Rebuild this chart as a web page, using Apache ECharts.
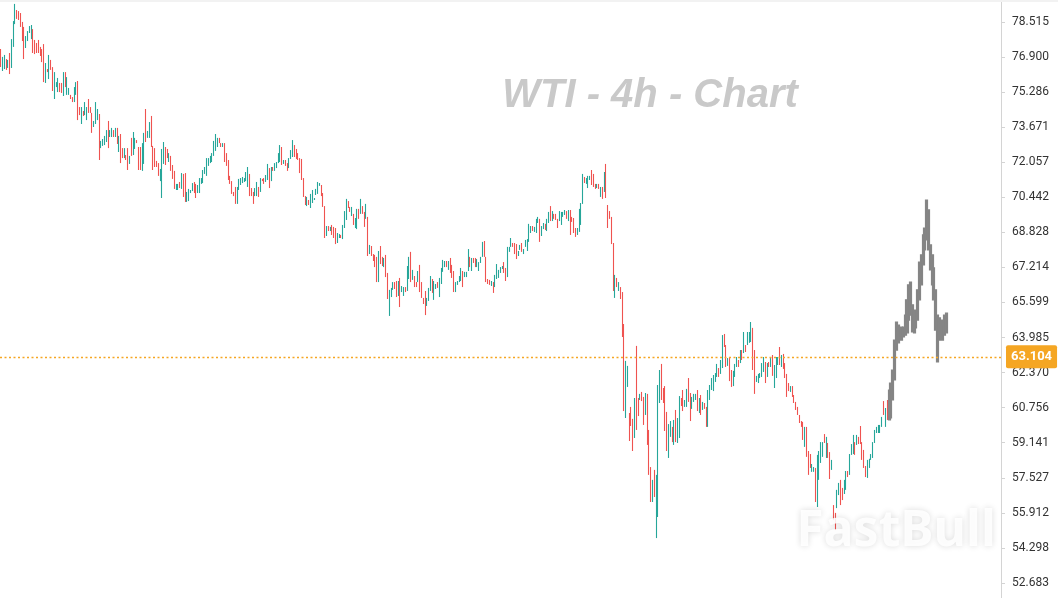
<!DOCTYPE html>
<html>
<head>
<meta charset="utf-8">
<script src="https://cdn.jsdelivr.net/npm/echarts@6/dist/echarts.min.js"></script>
<style>
html,body{margin:0;padding:0;background:#fff;}
#chart{width:1058px;height:598px;}
</style>
</head>
<body>
<div id="chart"></div>
<script>
// ---- DATA ----
const title = 'WTI - 4h - Chart';
const brand = 'FastBull';
const lastPrice = 63.104;
const tickLabels = ['52.683','54.298','55.912','57.527','59.141','60.756','62.370','63.985','65.599','67.214','68.828','70.442','72.057','73.671','75.286','76.900','78.515'];

// completed 4h candles (open / close)
const opens = [
77.27,76.26,76.35,76.81,76.40,77.09,76.40,77.37,78.42,79.07,
79.02,78.93,78.52,78.29,77.32,77.64,78.01,77.73,78.19,77.69,
77.55,77.69,77.37,77.27,77.50,75.71,76.35,75.89,76.77,76.44,
74.97,75.52,75.29,75.71,75.71,75.11,76.21,75.16,75.16,75.16,
75.06,74.83,75.16,75.80,74.60,73.82,74.42,74.23,74.00,74.97,
74.60,74.33,73.68,73.82,74.00,74.28,72.71,72.81,72.85,72.99,
73.96,73.22,73.22,73.54,73.22,73.64,72.53,73.36,72.71,72.25,
72.39,72.71,71.98,73.18,72.39,72.67,73.08,72.76,72.76,71.66,
71.98,74.51,73.18,73.18,74.19,72.81,72.71,72.12,72.02,
71.19,70.41,71.98,72.76,72.67,72.07,72.35,71.93,71.66,70.78,
70.78,71.15,70.83,71.52,71.56,70.23,70.27,70.64,70.73,71.15,
71.06,70.64,70.64,71.06,71.10,71.52,71.43,71.89,72.02,72.07,
72.35,72.58,72.76,73.18,72.94,72.76,72.94,72.48,72.16,71.43,
71.19,70.69,70.92,70.14,70.78,71.01,71.10,71.15,71.19,70.92,
71.52,70.87,70.69,70.50,70.50,70.92,70.69,71.29,71.33,71.15,
71.24,71.79,71.19,71.84,71.66,71.79,72.02,72.07,72.76,71.98,
72.16,72.02,71.79,72.21,72.30,72.85,72.67,72.48,72.25,72.21,
71.33,70.50,70.04,70.32,69.95,70.18,70.32,70.55,70.60,
70.97,71.01,70.64,70.04,68.66,69.12,68.89,69.17,69.08,69.03,
68.34,68.57,68.71,68.52,69.03,69.40,70.27,70.00,69.58,69.68,
69.03,68.98,69.91,69.68,70.04,69.77,69.45,69.54,67.83,68.20,
67.83,67.79,67.70,66.54,68.20,67.70,67.23,67.79,66.96,64.98,
65.85,66.18,66.54,66.59,65.90,66.73,66.08,65.90,66.31,66.13,
66.68,67.93,66.64,66.82,66.54,66.54,67.33,66.54,65.81,66.13,
65.44,65.67,66.13,66.68,65.72,66.22,66.54,65.85,66.45,67.01,
67.23,67.51,67.10,67.65,67.33,67.05,66.08,66.41,66.54,66.59,
67.05,66.77,66.77,67.05,67.70,67.05,67.65,67.65,67.23,
67.05,67.42,67.70,68.43,67.70,66.68,66.64,66.36,66.54,66.31,
66.68,66.73,66.96,67.14,67.46,67.19,66.77,67.93,68.16,68.34,
68.34,68.29,67.74,68.02,68.34,67.83,68.16,67.97,68.39,68.80,
69.12,68.85,68.80,69.26,69.45,68.66,68.98,69.22,68.89,69.26,
70.04,69.35,69.68,69.68,69.45,69.35,69.17,69.54,69.63,69.81,
69.35,69.86,69.54,69.49,69.03,68.71,68.85,69.17,70.14,71.38,
71.06,
70.87,71.24,71.70,71.52,71.06,70.87,71.06,70.46,70.92,70.69,
71.98,70.09,69.81,69.54,68.34,65.81,66.73,66.13,66.31,66.08,
64.61,60.28,61.71,60.51,60.79,60.24,59.36,63.60,61.20,61.11,
61.48,61.25,60.42,61.39,59.73,58.02,56.41,57.89,54.75,55.72,
60.97,62.77,61.66,61.75,60.56,58.44,59.41,59.87,59.04,60.65,
59.13,59.36,61.20,61.57,60.79,60.79,62.12,61.43,60.70,61.02,
61.11,61.57,60.51,61.34,60.65,60.97,60.79,59.87,61.11,61.57,
61.52,61.94,62.17,62.58,62.31,62.58,64.15,63.64,62.68,63.09,
62.49,61.75,62.17,
62.63,62.95,62.81,63.41,63.27,63.64,63.64,63.74,63.78,64.43,
63.41,61.94,61.89,62.12,62.17,62.40,62.86,62.17,62.86,62.63,
63.18,61.66,62.12,62.72,63.55,62.63,63.23,62.81,62.31,61.89,
61.48,61.75,61.34,61.02,60.79,60.42,60.14,60.10,58.95,59.87,
58.76,58.62,57.80,57.80,57.98,56.18,57.43,58.21,58.49,59.54,
58.44,59.13,58.71,57.89,56.27,55.91,56.13,56.73,57.43,57.06,
56.78,56.97,57.84,57.66,58.58,58.62,59.17,59.04,59.41,59.91,
59.17,58.81,58.07,57.52,57.98,58.35,58.44,59.13,59.59,59.59,
59.59,59.87,61.06,59.87,61.11
];
const closes = [
76.44,76.91,77.00,76.31,76.77,76.12,77.73,78.56,79.35,78.66,
78.61,78.29,77.64,76.81,77.87,78.10,78.33,78.38,77.09,77.04,
77.09,77.09,76.95,76.67,75.75,76.63,76.21,77.00,76.31,75.34,
76.21,75.75,75.94,75.29,75.25,76.21,75.52,75.98,75.48,74.97,
74.83,75.52,75.75,74.00,74.23,74.60,74.19,74.83,74.60,74.33,
74.33,73.41,73.96,74.83,74.51,72.16,73.04,73.13,73.27,73.54,
72.71,73.54,73.64,73.22,73.64,72.90,73.27,72.02,72.25,72.71,
72.16,71.70,72.35,72.35,73.45,73.18,72.94,71.70,71.70,72.94,
73.41,72.99,73.50,73.91,72.76,71.70,71.84,71.84,71.43,
71.75,72.67,72.99,71.93,72.25,72.48,71.66,71.29,70.83,71.06,
71.06,70.87,71.56,70.46,70.23,70.69,70.83,70.78,71.10,70.64,
70.41,71.01,71.33,71.33,71.70,71.84,72.25,72.25,72.35,72.48,
73.04,73.36,73.18,72.94,72.76,72.94,72.07,71.89,71.24,71.06,
70.60,70.50,70.14,70.92,71.29,71.33,71.38,71.33,71.61,71.84,
70.50,70.50,70.14,70.87,71.15,70.46,71.33,71.19,71.06,71.47,
71.98,70.87,71.84,71.66,72.02,72.07,72.48,72.85,71.93,72.16,
71.89,71.66,72.25,72.62,73.08,72.30,72.21,72.16,71.56,71.24,
70.46,70.09,70.46,70.09,70.60,70.78,70.41,70.83,71.15,
71.10,70.50,70.00,68.57,69.12,68.89,69.08,68.71,68.57,68.29,
68.80,68.75,68.57,69.17,69.81,70.37,69.95,69.77,70.00,69.17,
69.49,69.91,69.45,70.37,69.68,69.08,70.14,67.74,68.25,67.74,
67.51,67.23,66.54,67.97,67.37,67.28,67.65,66.77,65.76,66.18,
66.27,66.54,66.22,65.85,66.59,65.39,66.36,66.31,66.08,67.28,
67.70,66.54,67.10,66.31,66.31,67.05,66.08,65.81,65.53,65.02,
65.81,66.27,66.82,66.04,66.59,66.45,66.27,66.73,67.19,67.56,
67.51,67.23,67.51,66.96,66.73,66.08,66.54,66.59,66.82,67.19,
66.31,67.01,67.01,68.06,67.23,67.65,67.42,67.23,67.60,
67.46,67.70,68.39,67.70,66.54,66.45,66.41,66.59,66.04,66.87,
67.37,67.10,67.23,67.28,66.96,66.59,68.16,68.16,68.57,68.16,
67.83,67.60,67.97,68.25,67.93,68.06,68.48,68.52,69.22,69.12,
68.89,69.08,69.45,69.54,68.39,69.12,69.26,68.94,69.45,69.77,
69.35,69.81,69.45,69.40,69.03,69.81,69.77,69.77,69.86,69.45,
69.86,68.71,69.31,68.80,68.62,69.03,69.91,70.18,71.52,71.10,
71.33,
71.43,71.43,71.01,70.92,70.83,71.06,70.83,70.92,70.37,71.61,
70.41,69.03,69.45,68.29,66.13,66.87,66.31,66.54,65.76,64.01,
60.60,62.91,62.68,59.22,59.91,58.76,61.20,59.73,60.37,61.39,
61.06,59.96,61.43,59.04,57.66,56.41,57.43,56.64,57.66,61.80,
62.49,61.11,60.97,59.68,58.76,60.00,60.14,59.17,60.19,59.17,
60.28,61.29,60.83,60.60,61.11,61.62,61.02,60.14,61.25,61.39,
61.39,60.60,61.20,60.42,61.02,60.70,59.87,61.57,61.80,62.12,
62.26,62.35,62.77,62.17,62.95,64.10,63.55,62.63,63.04,61.98,
61.71,62.45,62.77,
63.09,62.63,63.41,62.95,64.24,63.32,64.24,64.24,64.70,62.49,
61.39,62.22,62.31,62.35,62.81,63.09,61.89,62.81,62.63,63.09,
62.22,62.72,63.09,63.09,62.72,63.18,62.54,62.12,61.25,61.52,
61.75,61.25,60.97,60.65,60.42,60.05,59.87,59.27,59.87,58.49,
57.66,57.98,58.16,58.02,56.41,58.58,58.76,59.17,59.17,59.13,
59.41,58.44,57.47,58.35,55.58,55.12,56.97,57.29,56.27,56.50,
57.43,57.84,57.56,58.62,59.08,59.50,58.58,59.50,59.08,59.08,
58.35,57.98,57.56,58.35,58.40,58.62,59.17,59.73,59.87,59.96,
59.96,60.33,60.42,60.74,60.19
];
// most recent candles (drawn grey)
const liveOpens = [60.19,60.28,61.11,62.03,63.41,63.74,64.43,63.87,64.47,64.10,64.20,64.79,66.54,65.49,64.20,64.43,64.79,65.72,66.41,67.33,68.02,68.48,69.86,68.25,67.79,67.19,66.18,65.02,63.87,64.79,63.87,64.10,65.11];
const liveCloses = [61.57,61.89,62.49,63.87,64.70,64.56,63.97,64.47,64.01,65.02,65.72,66.41,65.02,64.24,64.89,65.25,66.18,67.46,67.79,68.71,69.03,70.32,68.02,67.10,66.41,65.72,64.33,62.86,64.89,64.01,64.56,65.02,64.20];

// ---- BUILD ----
const slotCount = 559;
const categories = Array.from({length: slotCount}, (_, i) => String(i));
function ohlc(o, c) { return [o, c, Math.min(o, c), Math.max(o, c)]; }
const mainData = opens.map((o, i) => ohlc(o, closes[i]));
const liveData = opens.map(() => '-').concat(liveOpens.map((o, i) => ohlc(o, liveCloses[i])));
const tickValues = tickLabels.map(Number);

const chart = echarts.init(document.getElementById('chart'), null, {renderer: 'canvas'});
chart.setOption({
  animation: false,
  backgroundColor: '#ffffff',
  grid: {left: 0, right: 57, top: 0, bottom: 0, containLabel: false},
  xAxis: {
    type: 'category', data: categories, boundaryGap: true,
    axisLine: {show: false}, axisTick: {show: false}, axisLabel: {show: false}, splitLine: {show: false}
  },
  yAxis: {
    type: 'value', position: 'right', scale: true,
    min: 51.99, max: 79.53,
    axisLine: {show: true, lineStyle: {color: '#d4d4d4', width: 1}},
    axisTick: {show: true, length: 4, customValues: tickValues, lineStyle: {color: '#d4d4d4'}},
    axisLabel: {
      show: true, customValues: tickValues, margin: 11,
      color: '#333333', fontSize: 12, fontFamily: 'Roboto, "Noto Sans", sans-serif',
      formatter: v => Number(v).toFixed(3)
    },
    splitLine: {show: false}
  },
  series: [
    {
      type: 'candlestick', name: 'WTI', data: mainData, barWidth: 1.3,
      itemStyle: {color: '#26a69a', color0: '#ef5350', borderColor: '#26a69a', borderColor0: '#ef5350', borderWidth: 1.1},
      markLine: {
        silent: true, symbol: 'none', animation: false,
        lineStyle: {color: '#f5a623', type: [2, 2.5], width: 1.3},
        label: {
          show: true, position: 'end', distance: 5,
          formatter: () => lastPrice.toFixed(3),
          color: '#ffffff', backgroundColor: '#f5a623', fontWeight: 'bold',
          fontSize: 13, fontFamily: 'Roboto, "Noto Sans", sans-serif',
          padding: [5, 5, 5, 5], borderRadius: 2
        },
        data: [{yAxis: lastPrice}]
      }
    },
    {
      type: 'candlestick', name: 'live', data: liveData, barWidth: 2.6,
      itemStyle: {color: '#858585', color0: '#858585', borderColor: '#858585', borderColor0: '#858585', borderWidth: 1.2}
    }
  ],
  graphic: [
    {type: 'rect', left: 0, top: 0, shape: {width: 1058, height: 2}, style: {fill: '#f2f2f2'}, z: 10, silent: true},
    {type: 'text', x: 650, y: 96, z: 0, silent: true,
      style: {text: title, fill: '#c9c9c9', font: 'italic bold 40px "Liberation Sans", Arial, sans-serif', textAlign: 'center', textVerticalAlign: 'middle'}},
    {type: 'text', x: 896, y: 532, z: 100, silent: true,
      style: {text: brand, fill: 'rgba(255,255,255,0.88)', font: 'bold 50px "Noto Sans", sans-serif', textAlign: 'center', textVerticalAlign: 'middle',
        shadowBlur: 6, shadowColor: 'rgba(0,0,0,0.16)', textShadowBlur: 6, textShadowColor: 'rgba(0,0,0,0.16)'}}
  ]
});
</script>
</body>
</html>
